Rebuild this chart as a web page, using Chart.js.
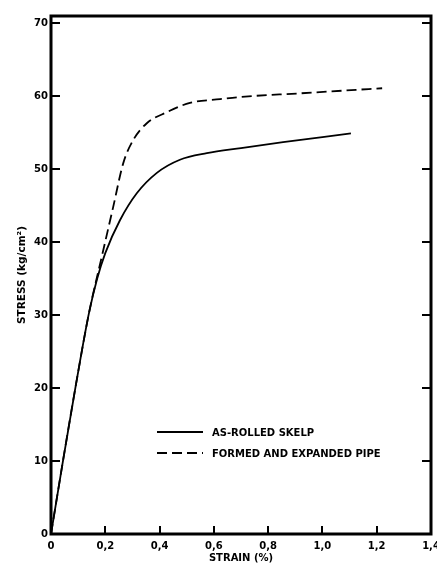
<!DOCTYPE html>
<html>
<head>
<meta charset="utf-8">
<script src="https://cdn.jsdelivr.net/npm/chart.js@4.4.0/dist/chart.umd.min.js"></script>
<style>
  html, body { margin: 0; padding: 0; background: #fff; }
  #wrap { width: 437px; height: 568px; }
</style>
</head>
<body>
<div id="wrap"><canvas id="chart" width="437" height="568"></canvas></div>
<script>
// Series (strain in %, stress in kg/cm2)
const seriesNames = ["AS-ROLLED SKELP", "FORMED AND EXPANDED PIPE"];
const skelpStrain = [0, 0.044, 0.092, 0.14, 0.17, 0.20, 0.254, 0.316, 0.39, 0.475, 0.574, 0.70, 0.855, 1.00, 1.105];
const skelpStress = [0, 10.0, 20.5, 30.3, 35.0, 38.5, 43.0, 46.7, 49.5, 51.3, 52.2, 52.9, 53.7, 54.4, 54.9];
const pipeStrain = [0, 0.044, 0.092, 0.14, 0.187, 0.229, 0.266, 0.303, 0.353, 0.426, 0.512, 0.623, 0.696, 0.917, 1.22];
const pipeStress = [0, 10.0, 20.5, 30.3, 38.0, 44.8, 50.8, 54.0, 56.3, 57.8, 59.1, 59.6, 59.9, 60.4, 61.1];

// Axis ticks as printed on the figure
const xTickValues = [0, 0.2, 0.4, 0.6, 0.8, 1.0, 1.2, 1.4];
const xTickLabels = ["0", "0,2", "0,4", "0,6", "0,8", "1,0", "1,2", "1,4"];
const yTickValues = [0, 10, 20, 30, 40, 50, 60, 70];
const yTickLabels = ["0", "10", "20", "30", "40", "50", "60", "70"];

const toPoints = (xs, ys) => xs.map((x, i) => ({ x: x, y: ys[i] }));

const FONT = "'DejaVu Sans', sans-serif";

// Frame, inward tick marks and the legend inside the plot
const framePlugin = {
  id: "frame",
  afterDraw(chart) {
    const { ctx, chartArea: a, scales } = chart;
    ctx.save();
    ctx.strokeStyle = "#000";
    ctx.lineWidth = 3;
    ctx.strokeRect(a.left, a.top, a.right - a.left, a.bottom - a.top);

    ctx.lineWidth = 2;
    ctx.beginPath();
    yTickValues.forEach(v => {
      const y = Math.round(scales.y.getPixelForValue(v));
      ctx.moveTo(a.left, y); ctx.lineTo(a.left + 9, y);
      ctx.moveTo(a.right, y); ctx.lineTo(a.right - 9, y);
    });
    xTickValues.forEach(v => {
      const x = Math.round(scales.x.getPixelForValue(v));
      ctx.moveTo(x, a.bottom); ctx.lineTo(x, a.bottom - 8);
    });
    ctx.stroke();

    // legend
    const lx = 157, lw = 46;
    const rows = [432, 453];
    ctx.font = "bold 10px " + FONT;
    ctx.fillStyle = "#000";
    ctx.textBaseline = "middle";
    chart.data.datasets.forEach((ds, i) => {
      ctx.lineWidth = ds.borderWidth;
      ctx.setLineDash(ds.borderDash || []);
      ctx.beginPath();
      ctx.moveTo(lx, rows[i]); ctx.lineTo(lx + lw, rows[i]);
      ctx.stroke();
      ctx.setLineDash([]);
      ctx.fillText(ds.label, 212, rows[i] + 1);
    });
    ctx.restore();
  }
};

new Chart(document.getElementById("chart"), {
  type: "scatter",
  data: {
    datasets: [
      {
        label: seriesNames[0],
        data: toPoints(skelpStrain, skelpStress),
        showLine: true,
        borderColor: "#000",
        borderWidth: 1.8,
        pointRadius: 0,
        cubicInterpolationMode: "monotone"
      },
      {
        label: seriesNames[1],
        data: toPoints(pipeStrain, pipeStress),
        showLine: true,
        borderColor: "#000",
        borderWidth: 1.8,
        borderDash: [10, 5],
        pointRadius: 0,
        cubicInterpolationMode: "monotone"
      }
    ]
  },
  options: {
    responsive: false,
    animation: false,
    devicePixelRatio: 1,
    layout: { padding: { left: 0, right: 6, top: 16, bottom: 0 } },
    plugins: {
      legend: { display: false },
      tooltip: { enabled: false }
    },
    scales: {
      x: {
        type: "linear",
        min: 0,
        max: 1.4,
        grid: { display: false, drawTicks: false },
        border: { display: false },
        afterBuildTicks: s => { s.ticks = xTickValues.map(v => ({ value: v })); },
        afterFit: s => { s.height = 34; s.paddingLeft = 0; s.paddingRight = 0; },
        ticks: {
          color: "#000",
          font: { family: FONT, size: 10, weight: "bold" },
          padding: 6,
          maxRotation: 0,
          autoSkip: false,
          callback: (v, i) => xTickLabels[i]
        },
        title: {
          display: true,
          text: "STRAIN (%)",
          color: "#000",
          font: { family: FONT, size: 10, weight: "bold" },
          padding: { top: 0, bottom: 4 }
        }
      },
      y: {
        type: "linear",
        min: 0,
        max: 71,
        grid: { display: false, drawTicks: false },
        border: { display: false },
        afterBuildTicks: s => { s.ticks = yTickValues.map(v => ({ value: v })); },
        afterFit: s => { s.width = 51; s.paddingTop = 0; s.paddingBottom = 0; },
        ticks: {
          color: "#000",
          font: { family: FONT, size: 10, weight: "bold" },
          padding: 3,
          autoSkip: false,
          callback: (v, i) => yTickLabels[i]
        },
        title: {
          display: true,
          text: "STRESS (kg/cm²)",
          color: "#000",
          font: { family: FONT, size: 10.5, weight: "bold" },
          padding: { top: 16, bottom: 0 }
        }
      }
    }
  },
  plugins: [framePlugin]
});
</script>
</body>
</html>
